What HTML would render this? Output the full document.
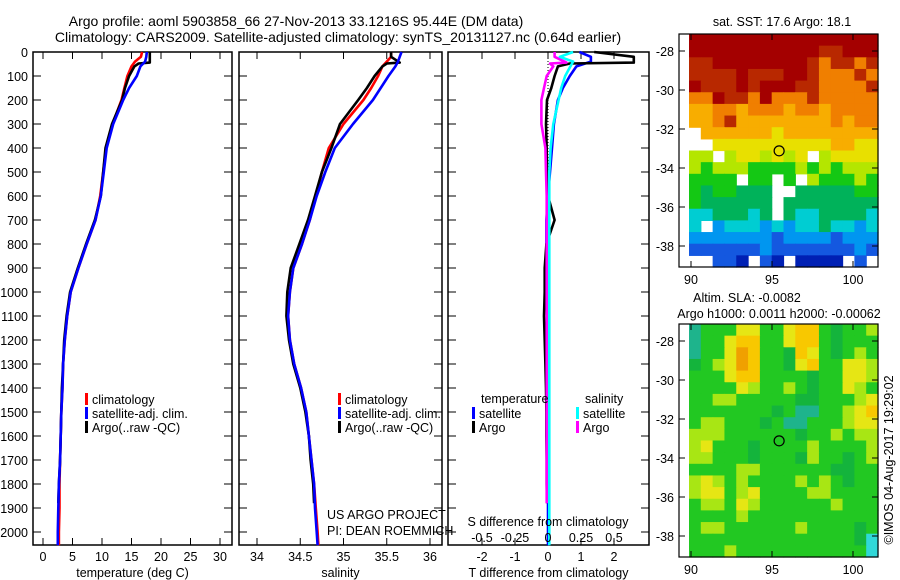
<!DOCTYPE html>
<html><head><meta charset="utf-8">
<style>
html,body{margin:0;padding:0;background:#fff;}
svg{display:block;font-family:"Liberation Sans",sans-serif;}
text{font-size:12.5px;fill:#000;}
</style></head>
<body>
<svg id="fig" width="900" height="580" viewBox="0 0 900 580" xmlns="http://www.w3.org/2000/svg">
<rect width="900" height="580" fill="#fff"/>
<text x="296" y="26" text-anchor="middle" style="font-size:14px">Argo profile: aoml 5903858_66 27-Nov-2013 33.1216S 95.44E (DM data)</text>
<text x="338" y="42" text-anchor="middle" style="font-size:14px">Climatology: CARS2009. Satellite-adjusted climatology: synTS_20131127.nc (0.64d earlier)</text>
<g id="g1"></g>
<g id="g2"></g>
<g id="g3"></g>
<g id="m1"></g>
<g id="m2"></g>
<text transform="translate(893,460) rotate(-90)" text-anchor="middle">©IMOS 04-Aug-2017 19:29:02</text>
</svg>
<script>
// ---- data ----
const tDepth = [0,20,40,60,100,150,200,300,400,500,600,700,800,900,1000,1100,1200,1300,1400,1500,1600,1700,1800,1900,2000,2055];
const tClim  = [16.8,16.6,15.6,15.0,14.3,13.8,13.3,11.8,10.7,10.2,9.7,8.9,7.4,6.0,4.7,4.1,3.7,3.4,3.3,3.1,3.0,2.9,2.8,2.8,2.7,2.7];
const tSat   = [17.6,17.5,17.3,16.5,15.9,14.6,13.6,11.9,10.8,10.3,9.8,8.9,7.4,6.0,4.7,4.1,3.7,3.4,3.3,3.1,3.0,2.9,2.7,2.6,2.5,2.5];
const argoDepth = [0,20,44,48,60,100,150,200,300,400,500,600,700,800,900,1000,1100,1200,1300,1400,1500,1600,1700,1800,1880];
const tArgo  = [18.1,18.1,18.1,16.2,15.5,14.6,13.9,13.4,11.7,10.6,10.2,9.8,8.8,7.3,5.9,4.6,4.0,3.6,3.4,3.2,3.1,3.0,2.9,2.7,2.6];
const sClim  = [35.55,35.55,35.5,35.45,35.4,35.32,35.23,35.0,34.83,34.75,34.68,34.61,34.52,34.42,34.38,34.36,34.38,34.43,34.51,34.57,34.6,34.63,34.66,34.68,34.7,34.71];
const sSat   = [35.67,35.65,35.63,35.6,35.52,35.43,35.34,35.11,34.9,34.79,34.69,34.61,34.52,34.42,34.38,34.36,34.38,34.43,34.51,34.57,34.6,34.63,34.66,34.67,34.69,34.7];
const sArgo  = [35.55,35.55,35.65,35.5,35.45,35.36,35.27,35.17,34.96,34.86,34.75,34.67,34.59,34.49,34.39,34.35,34.34,34.37,34.42,34.5,34.56,34.6,34.62,34.65,34.66];
const dtSat  = [0.95,1.3,1.3,0.86,0.66,0.45,0.3,0.18,0.12,0.06,0.0,-0.05,-0.05,-0.05,-0.04,-0.03,-0.03,-0.02,-0.02,-0.02,-0.01,0,0.0,0.0,0.0,0.0];
const dtArgo = [1.4,2.6,2.6,0.66,0.3,0.2,0.1,-0.03,-0.06,-0.04,-0.03,0.0,0.2,-0.05,-0.1,-0.1,-0.12,-0.1,-0.08,-0.06,-0.05,-0.05,-0.04,-0.04,-0.03];
const dsSat  = [0.19,0.09,0.19,0.17,0.13,0.1,0.08,0.04,0.02,0.01,0.01,0.01,0.01,0.01,0.01,0.01,0.01,0.01,0.01,0.01,0.01,0.01,0.01,0.01,0.01,0.01];
const dsArgo = [0.05,0.05,0.14,0.015,0.04,-0.01,-0.03,-0.05,-0.05,-0.02,-0.015,-0.01,-0.01,-0.01,-0.01,-0.01,-0.01,-0.01,-0.01,-0.01,-0.01,-0.01,-0.01,-0.01,-0.01];
const depthTicks = [0,100,200,300,400,500,600,700,800,900,1000,1100,1200,1300,1400,1500,1600,1700,1800,1900,2000];
const tTicks = [0,5,10,15,20,25,30];
const sTicks = [34,34.5,35,35.5,36];
const sTickLabels = ["34","34.5","35","35.5","36"];
const dTTicks = [-2,-1,0,1,2];
const dSTicks = [-0.5,-0.25,0,0.25,0.5];
const dSTickLabels = ["-0.5","-0.25","0","0.25","0.5"];
const lonTicks = [90,95,100];
const latTicks = [-28,-30,-32,-34,-36,-38];
const sstRows = [
"9999999999999999","9999999999988999","8899999999878878","8888988899877787",
"9888989998877778","7798879777877777","6677677767767777","6678666666667677",
".666666566666666","..55555555556655","44.4554545.45555","4344433334343444",
"3333.33.3.433343","3233222..2222233","3222222.22222222","1122212.21122221",
"1.01110101121101","0000000a0000a000","aaaaaa0aaaaaaa0a","..aab.ab.bbbb.a."];
const slaRows = [
"1333553356632334","1335663356632333","1335763326532343","2345763325633554",
"3335663333233554","3333543343233543","3344333332233345","3333333231133456",
"3443332311333455","4443333332334344","4533323333433334","4433323332433234",
"3333443333332233","4543433334343233","4553453333443333","3443543333334333",
"3333433333333333","3443333334333323","3333333333333320","3334333333333330"];
// ---- helpers ----
const NS="http://www.w3.org/2000/svg";
function mk(parent,tag,attrs){const e=document.createElementNS(NS,tag);for(const k in attrs)e.setAttribute(k,attrs[k]);parent.appendChild(e);return e;}
function txt(parent,x,y,s,anchor){const e=mk(parent,'text',{x:x,y:y,'text-anchor':anchor||'middle'});e.textContent=s;return e;}
const Y0=52, PY=0.24, YB=545;
const yD=d=>Y0+d*PY;
function panel(g,x0,x1,xScale,ticks,labels,title,leftLabels){
  const fr=mk(g,'rect',{x:x0,y:Y0,width:x1-x0,height:YB-Y0,fill:'none',stroke:'#000','stroke-width':1.5});
  
  
  depthTicks.forEach(d=>{
    mk(g,'line',{x1:x0,x2:x0+8,y1:yD(d),y2:yD(d),stroke:'#000'});
    mk(g,'line',{x1:x1-8,x2:x1,y1:yD(d),y2:yD(d),stroke:'#000'});
    if(leftLabels){const t=txt(g,28,yD(d)+5,String(d),'end');
      
      }
  });
  ticks.forEach((v,i)=>{const x=xScale(v);
    mk(g,'line',{x1:x,x2:x,y1:Y0,y2:Y0+7,stroke:'#000'});
    mk(g,'line',{x1:x,x2:x,y1:YB-7,y2:YB,stroke:'#000'});
    const t=txt(g,x,561,labels[i]);
    
    
  });
  const tt=txt(g,(x0+x1)/2,577,title);
  
  
}
function line(g,depths,vals,xScale,color,name,w){
  const pts=vals.map((v,i)=>xScale(v).toFixed(1)+','+yD(depths[i]).toFixed(1)).join(' ');
  const p=mk(g,'polyline',{points:pts,fill:'none',stroke:color,'stroke-width':w||2.6,'stroke-linejoin':'round'});
  
  
}
function legend(g,x,y,color,label){
  mk(g,'rect',{x:x,y:y-11,width:3,height:12,fill:color});
  const t=txt(g,x+7,y,label,'start');
  
  
}
// panel 1
const g1=document.getElementById('g1');
const xT=v=>43+v*5.9;
panel(g1,33,232,xT,tTicks,tTicks.map(String),'temperature (deg C)',true);
line(g1,tDepth,tClim,xT,'#f00','clim-temperature-line');
line(g1,argoDepth,tArgo,xT,'#000','argo-temperature-line');
line(g1,tDepth,tSat,xT,'#00f','sat-temperature-line');
legend(g1,85,404,'#f00','climatology');
legend(g1,85,418,'#00f','satellite-adj. clim.');
legend(g1,85,432,'#000','Argo(..raw -QC)');
// panel 2
const g2=document.getElementById('g2');
const xS=v=>257+(v-34)*86.5;
panel(g2,239,442,xS,sTicks,sTickLabels,'salinity',false);
line(g2,tDepth,sClim,xS,'#f00','clim-salinity-line');
line(g2,argoDepth,sArgo,xS,'#000','argo-salinity-line');
line(g2,tDepth,sSat,xS,'#00f','sat-salinity-line');
legend(g2,338,404,'#f00','climatology');
legend(g2,338,418,'#00f','satellite-adj. clim.');
legend(g2,338,432,'#000','Argo(..raw -QC)');
const u1=txt(g2,327,519,'US ARGO PROJECT','start');


const u2=txt(g2,327,535,'PI: DEAN ROEMMICH','start');


// panel 3
const g3=document.getElementById('g3');
const xDT=v=>548+v*33;
const xDS=v=>548+v*132;
panel(g3,448,649,xDT,dTTicks,dTTicks.map(String),'T difference from climatology',false);
mk(g3,'line',{x1:548,x2:548,y1:Y0,y2:YB,stroke:'#000','stroke-dasharray':'1,2'});
line(g3,tDepth,dtSat,xDT,'#00f','dt-satellite-line');
line(g3,argoDepth,dtArgo,xDT,'#000','dt-argo-line');
line(g3,argoDepth,dsArgo,xDS,'#f0f','ds-argo-line');
line(g3,tDepth,dsSat,xDS,'#0ff','ds-satellite-line');
const h1=txt(g3,481,403,'temperature','start');


const h2=txt(g3,585,403,'salinity','start');


legend(g3,472,418,'#00f','satellite');
legend(g3,472,432,'#000','Argo');
legend(g3,576,418,'#0ff','satellite');
legend(g3,576,432,'#f0f','Argo');
const st=txt(g3,548,526,'S difference from climatology');


dSTicks.forEach((v,i)=>{const t=txt(g3,xDS(v),542,dSTickLabels[i]);
  
  });
// maps
const sstCol={'9':'#a40000','8':'#b82800','7':'#f07f00','6':'#f8ad00','5':'#e8e000','4':'#b4e600','3':'#14c814','2':'#00b25a','1':'#00cdd2','0':'#0096f0','a':'#1458e0','b':'#0020b4'};
const slaCol={'0':'#30d8d8','1':'#1eb48c','2':'#14b43c','3':'#22c822','4':'#a8e614','5':'#e6e614','6':'#f8c800','7':'#f0a000'};
function map(id,top,rows,cols,title1,title2){
  const g=document.getElementById(id);
  const x0=679,x1=878,dx0=689,y1=top+233;
  const lonX=v=>691+(v-90)*16.2;
  const latY=v=>top+17+(-28-v)*19.5;
  const cw=(x1-dx0)/16, ch=233/20;
  rows.forEach((r,ri)=>{for(let ci=0;ci<r.length;ci++){const c=r[ci];if(c==='.')continue;
    const cell=mk(g,'rect',{x:(dx0+ci*cw).toFixed(2),y:(top+ri*ch).toFixed(2),width:(cw+0.6).toFixed(2),height:(ch+0.6).toFixed(2),fill:cols[c]});
    
    }});
  mk(g,'rect',{x:x0,y:top,width:x1-x0,height:233,fill:'none',stroke:'#000','stroke-width':1.2});
  lonTicks.forEach(v=>{const x=lonX(v);mk(g,'line',{x1:x,x2:x,y1:top,y2:top+6,stroke:'#000'});mk(g,'line',{x1:x,x2:x,y1:y1-6,y2:y1,stroke:'#000'});
    const t=txt(g,x,y1+17,String(v));
    
    });
  latTicks.forEach(v=>{const y=latY(v);mk(g,'line',{x1:x0,x2:x0+6,y1:y,y2:y,stroke:'#000'});mk(g,'line',{x1:x1-6,x2:x1,y1:y,y2:y,stroke:'#000'});
    const t=txt(g,674,y+5,String(v),'end');
    
    });
  const mkr=mk(g,'circle',{cx:lonX(95.44),cy:latY(-33.12),r:5,fill:'none',stroke:'#000','stroke-width':1.2});
  
  
  const a=txt(g,title1[1],title1[2],title1[0]);
  
  
  if(title2){const b=txt(g,title2[1],title2[2],title2[0]);
    
    }
}
map('m1',34,sstRows,sstCol,['sat. SST: 17.6 Argo: 18.1',782,26],null);
map('m2',324,slaRows,slaCol,['Altim. SLA: -0.0082',747,302],['Argo h1000: 0.0011 h2000: -0.00062',779,318]);
</script>
</body></html>
